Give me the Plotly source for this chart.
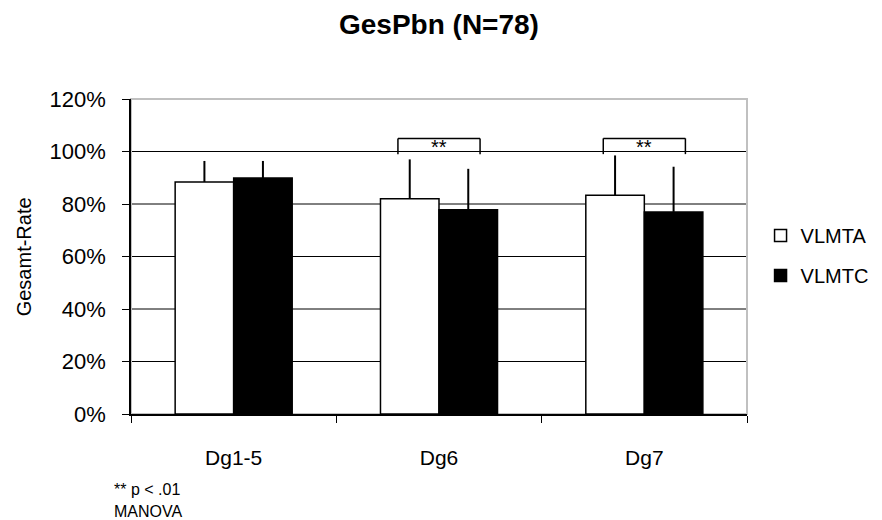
import plotly.graph_objects as go

# Categories and series (rates as fractions)
categories = ["Dg1-5", "Dg6", "Dg7"]
vlmta = [0.884, 0.820, 0.833]
vlmtc = [0.899, 0.778, 0.770]
# Upper error (standard deviation) for each bar
vlmta_err = [0.080, 0.150, 0.152]
vlmtc_err = [0.065, 0.156, 0.172]

# Significance markers drawn above these categories
sig_categories = ["Dg6", "Dg7"]
sig_label = "**"

y_ticks = [0.0, 0.2, 0.4, 0.6, 0.8, 1.0, 1.2]
y_tick_text = ["0%", "20%", "40%", "60%", "80%", "100%", "120%"]

FONT = "Liberation Sans, Arial, sans-serif"

fig = go.Figure()
fig.add_trace(go.Bar(
    name="VLMTA", x=categories, y=vlmta,
    marker=dict(color="white", line=dict(color="black", width=1.5)),
    error_y=dict(type="data", symmetric=False, array=vlmta_err,
                 arrayminus=[0] * len(vlmta), color="black", thickness=2, width=0),
    legendgroup="a",
))
fig.add_trace(go.Bar(
    name="VLMTC", x=categories, y=vlmtc,
    marker=dict(color="black", line=dict(color="black", width=1.5)),
    error_y=dict(type="data", symmetric=False, array=vlmtc_err,
                 arrayminus=[0] * len(vlmtc), color="black", thickness=2, width=0),
    legendgroup="c",
))

shapes = []
# Horizontal gridlines (behind bars)
for v in y_ticks[1:-1]:
    shapes.append(dict(type="line", xref="paper", yref="y", x0=0, x1=1, y0=v, y1=v,
                       line=dict(color="black", width=1), layer="below"))
# Light plot-area frame
shapes.append(dict(type="rect", xref="paper", yref="paper", x0=0, x1=1, y0=0, y1=1,
                   line=dict(color="#c0c0c0", width=2), layer="below"))

annotations = []
# Significance brackets
for cat in sig_categories:
    i = categories.index(cat)
    x0, x1 = i - 0.2, i + 0.2
    yb, yt = 0.99, 1.05
    for (xa, ya, xb, yb2) in [(x0, yb, x0, yt), (x0, yt, x1, yt), (x1, yt, x1, yb)]:
        shapes.append(dict(type="line", xref="x", yref="y", x0=xa, x1=xb, y0=ya, y1=yb2,
                           line=dict(color="black", width=1.5)))
    annotations.append(dict(x=i, y=1.017, xref="x", yref="y", text=sig_label,
                            xanchor="center", yanchor="middle", showarrow=False,
                            font=dict(size=20, color="black", family=FONT)))

# Y axis title
annotations.append(dict(x=-0.174, y=0.5, xref="paper", yref="paper", text="Gesamt-Rate",
                        textangle=-90, xanchor="center", yanchor="middle", showarrow=False,
                        font=dict(size=20, color="black", family=FONT)))
# Footnote
annotations.append(dict(x=-0.031, y=-0.241, xref="paper", yref="paper", text="** p < .01",
                        xanchor="left", yanchor="middle", showarrow=False,
                        font=dict(size=16, color="black", family=FONT)))
annotations.append(dict(x=-0.031, y=-0.311, xref="paper", yref="paper", text="MANOVA",
                        xanchor="left", yanchor="middle", showarrow=False,
                        font=dict(size=16, color="black", family=FONT)))

fig.update_layout(
    width=882, height=520,
    margin=dict(l=131, r=135, t=99, b=106, autoexpand=False),
    paper_bgcolor="white", plot_bgcolor="white",
    font=dict(family=FONT, color="black", size=22),
    title=dict(text="<b>GesPbn (N=78)</b>", x=0.4977, xanchor="center",
               y=0.954, yanchor="middle", font=dict(size=28, family=FONT, color="black")),
    barmode="group", bargap=0.43, bargroupgap=0,
    showlegend=True,
    legend=dict(x=1.022, y=0.503, xanchor="left", yanchor="middle",
                traceorder="grouped", tracegroupgap=11,
                font=dict(size=20, family=FONT, color="black"),
                bgcolor="rgba(0,0,0,0)"),
    shapes=shapes, annotations=annotations,
)
fig.update_xaxes(showline=True, linecolor="black", linewidth=1.5, showgrid=False,
                 ticks="outside", tickson="boundaries", ticklen=7, tickcolor="black",
                 tickwidth=1, ticklabelstandoff=24,
                 tickfont=dict(size=21, family=FONT, color="black"))
fig.update_yaxes(range=[0, 1.2], tickvals=y_ticks, ticktext=y_tick_text,
                 showline=True, linecolor="black", linewidth=1.5, showgrid=False,
                 zeroline=False, ticks="outside", ticklen=7, tickcolor="black",
                 ticklabelstandoff=12,
                 tickfont=dict(size=22, family=FONT, color="black"))

fig.write_html("out.html")
